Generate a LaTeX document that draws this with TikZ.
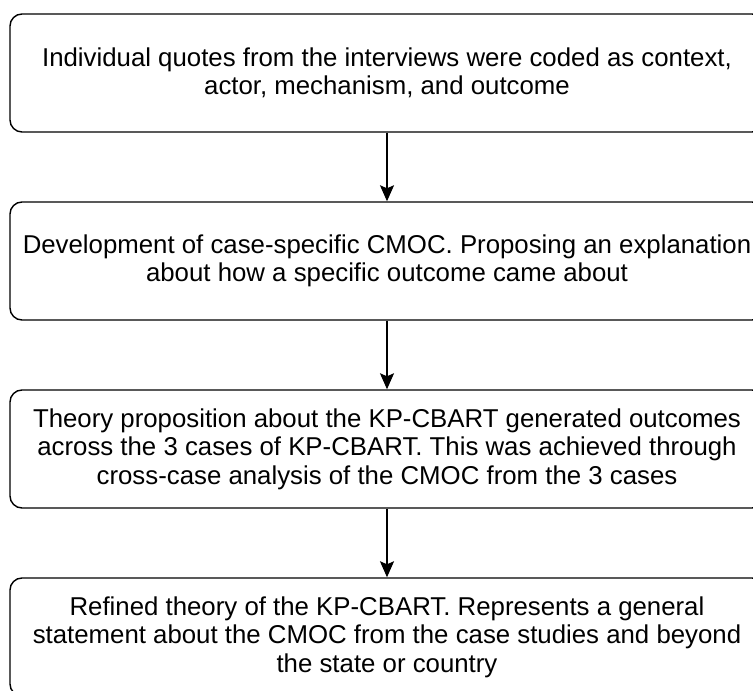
\documentclass[tikz,border=0pt]{standalone}
\usepackage{fontspec}
\setmainfont{Liberation Sans}
\usetikzlibrary{arrows.meta}

\begin{document}
\begin{tikzpicture}[x=1pt, y=1pt,
        step box/.style = {draw, line width=1.4pt, rounded corners=12pt, minimum width=754pt, minimum height=118pt, align=center, font=\fontsize{25.8}{28.5}\selectfont},
        flow/.style = {-{Stealth[length=16pt, width=14pt, inset=3pt]}, line width=1.4pt}]
                \useasboundingbox (0, 0) rectangle (753, 691);
                \clip (0, 0) rectangle (753, 691);
                \node[step box] at (387, 618) (Q) {Individual quotes from the interviews were coded as context,\\ actor, mechanism, and outcome};
                \node[step box] at (387, 430) (C) {Development of case-specific CMOC. Proposing an explanation\\ about how a specific outcome came about};
                \node[step box] at (387, 242) (T) {Theory proposition about the KP-CBART generated outcomes\\ across the 3 cases of KP-CBART. This was achieved through\\ cross-case analysis of the CMOC from the 3 cases};
                \node[step box] at (387, 54) (R) {Refined theory of the KP-CBART. Represents a general\\ statement about the CMOC from the case studies and beyond\\ the state or country};

                \draw[flow] (Q) -- (C);
                \draw[flow] (C) -- (T);
                \draw[flow] (T) -- (R);
            \end{tikzpicture}
\end{document}
